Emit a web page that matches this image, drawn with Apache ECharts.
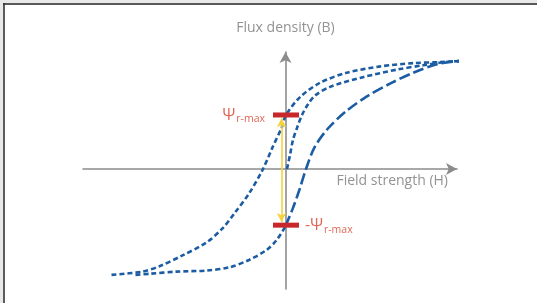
<!DOCTYPE html>
<html>
<head>
<meta charset="utf-8">
<script src="https://cdn.jsdelivr.net/npm/echarts@6/dist/echarts.min.js"></script>
<style>
html,body{margin:0;padding:0;background:#fff;}
#chart{width:537px;height:303px;}
</style>
</head>
<body>
<div id="chart"></div>
<script>
// hysteresis curve, H and B in arbitrary units (B saturation = 1)
var descH = [-1.74,-1.43,-1.26,-1.03,-0.79,-0.63,-0.51,-0.36,-0.23,-0.13,-0.035,0.005,0.15,0.35,0.61,0.95,1.28,1.55,1.76];
var descB = [-0.98,-0.95,-0.9,-0.8,-0.68,-0.55,-0.41,-0.22,-0.01,0.2,0.39,0.5,0.67,0.8,0.89,0.95,0.98,0.99,1.0];

var initH = [0.015,0.045,0.075,0.115,0.165,0.225,0.295,0.445,0.775,1.115,1.375,1.595,1.755];
var initB = [0,0.13,0.27,0.38,0.5,0.6,0.68,0.76,0.85,0.92,0.96,0.99,1.0];

var ascLowH = [-1.5,-1.36,-1.09,-0.79,-0.56,-0.36,-0.19,-0.09,0];
var ascLowB = [-0.98,-0.97,-0.95,-0.94,-0.91,-0.84,-0.75,-0.66,-0.53];

var ascUpH = [0,0.075,0.14,0.205,0.29,0.42,0.6,0.81,1.045,1.275,1.515,1.755];
var ascUpB = [-0.53,-0.36,-0.19,0,0.2,0.37,0.53,0.67,0.79,0.89,0.97,1.0];

var remanence = [0.5,-0.52];
var barH = [-0.125,0.135];
var arrowH = -0.04;
var arrowB = [0.47,-0.49];

var blue = '#1c5ca3';
var red = '#c8272b';
var labelRed = '#d8402a';
var gray = '#8c8c8c';

function pairs(xs,ys){
  var out = [];
  for(var i=0;i<xs.length;i++){
    out.push([xs[i],ys[i]]);
  }
  return out;
}

function curve(xs,ys,dash){
  return {
    type:'line',
    data:pairs(xs,ys),
    smooth:0.3,
    showSymbol:false,
    clip:false,
    silent:true,
    lineStyle:{color:blue,width:2.6,type:dash}
  };
}

function bar(b){
  return {
    type:'line',
    data:[[barH[0],b],[barH[1],b]],
    showSymbol:false,
    clip:false,
    silent:true,
    z:5,
    lineStyle:{color:red,width:5}
  };
}

var rich = {
  p:{fontSize:16,color:labelRed,fontFamily:'Open Sans'},
  s:{fontSize:10.5,color:labelRed,fontFamily:'Open Sans',padding:[9,0,0,1]}
};

var myChart = echarts.init(document.getElementById('chart'));
var option = {
  animation:false,
  graphic:[
    {type:'rect',shape:{x:0,y:0,width:537,height:3},style:{fill:'#e8e8e8'}},
    {type:'rect',shape:{x:0,y:0,width:3,height:303},style:{fill:'#e8e8e8'}},
    {type:'line',shape:{x1:3,y1:4,x2:537,y2:4},style:{stroke:'#222',lineWidth:1.6}},
    {type:'line',shape:{x1:4,y1:3,x2:4,y2:303},style:{stroke:'#333',lineWidth:1.6}}
  ],
  grid:{left:83,right:80,top:52,bottom:14},
  xAxis:{
    type:'value',
    min:-2.025,
    max:1.715,
    name:'Field strength (H)',
    nameLocation:'end',
    nameGap:-9,
    nameTextStyle:{color:'#939393',fontSize:14,fontFamily:'Open Sans',align:'right',verticalAlign:'top',padding:[5,0,0,0]},
    axisLine:{onZero:true,symbol:['none','arrow'],symbolSize:[9,11],lineStyle:{color:gray,width:1.6}},
    axisTick:{show:false},
    axisLabel:{show:false},
    splitLine:{show:false}
  },
  yAxis:{
    type:'value',
    min:-1.111,
    max:1.083,
    name:'Flux density (B)',
    nameLocation:'end',
    nameGap:17,
    nameTextStyle:{color:'#939393',fontSize:14,fontFamily:'Open Sans',align:'center'},
    axisLine:{onZero:true,symbol:['none','arrow'],symbolSize:[9,11],lineStyle:{color:gray,width:1.6}},
    axisTick:{show:false},
    axisLabel:{show:false},
    splitLine:{show:false}
  },
  series:[
    curve(descH,descB,[5,3]),
    curve(initH,initB,[5,3]),
    curve(ascLowH,ascLowB,[5,3]),
    curve(ascUpH,ascUpB,[11,4]),
    bar(remanence[0]),
    bar(remanence[1]),
    {
      type:'line',
      data:[],
      silent:true,
      markLine:{
        silent:true,
        symbol:['arrow','arrow'],
        symbolSize:[7,9],
        label:{show:false},
        lineStyle:{color:'#f5d23c',width:1.6,type:'solid'},
        data:[[{coord:[arrowH,arrowB[0]]},{coord:[arrowH,arrowB[1]]}]]
      }
    },
    {
      type:'scatter',
      symbolSize:0,
      silent:true,
      z:6,
      data:[
        {value:[barH[0],remanence[0]],label:{show:true,position:'left',distance:8,formatter:'{p|Ψ}{s|r-max}',rich:rich}},
        {value:[barH[1],remanence[1]],label:{show:true,position:'right',distance:6,formatter:'{p|-Ψ}{s|r-max}',rich:rich}}
      ]
    }
  ]
};
myChart.setOption(option);
</script>
</body>
</html>
